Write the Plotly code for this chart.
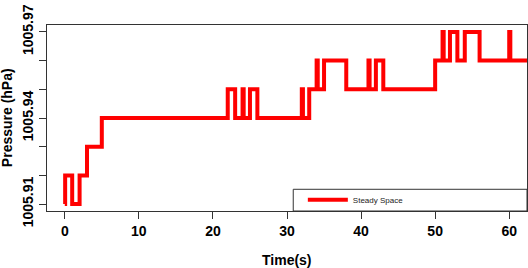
import plotly.graph_objects as go

# ---- data ----
time_s = [0, 0.05, 1.0, 2.0, 3.0, 5.0, 22.0, 23.0, 24.0, 24.15, 25.0, 26.0,
          32.0, 32.15, 33.0, 34.0, 34.15, 35.0, 38.0, 41.0, 41.15, 42.0, 43.0,
          50.0, 51.0, 51.15, 52.0, 53.0, 54.0, 56.0, 60.0, 60.15, 63.0]
pressure_hpa = [1005.91, 1005.92, 1005.91, 1005.92, 1005.93, 1005.94, 1005.95,
                1005.94, 1005.95, 1005.94, 1005.95, 1005.94, 1005.95, 1005.94,
                1005.95, 1005.96, 1005.95, 1005.96, 1005.95, 1005.96, 1005.95,
                1005.96, 1005.95, 1005.96, 1005.97, 1005.96, 1005.97, 1005.96,
                1005.97, 1005.96, 1005.97, 1005.96, 1005.96]
series_name = "Steady Space"
x_ticks = [0, 10, 20, 30, 40, 50, 60]
y_ticks = [1005.91, 1005.92, 1005.93, 1005.94, 1005.95, 1005.96, 1005.97]
y_ticktext = ["1005.91", "", "", "1005.94", "", "", "1005.97"]

FONT = "Liberation Sans, Arial, sans-serif"
AX = "#333333"

fig = go.Figure()
fig.add_trace(go.Scatter(
    x=time_s, y=pressure_hpa, mode="lines", name=series_name,
    line=dict(color="#ff0000", width=4, shape="hv"),
))

fig.update_layout(
    width=528, height=268,
    margin=dict(l=47, r=1, t=25, b=57),
    paper_bgcolor="white", plot_bgcolor="white",
    font=dict(family=FONT, color="black"),
    showlegend=True,
    legend=dict(x=0.533, y=0.06, xanchor="left", yanchor="middle",
                bgcolor="rgba(0,0,0,0)", borderwidth=0,
                font=dict(size=8, color="#222222", family=FONT),
                itemwidth=40),
    xaxis=dict(range=[-2.4, 62.4], tickvals=x_ticks, ticks="outside", ticklen=7,
               tickcolor=AX, showline=True, linecolor=AX, linewidth=1, mirror=True,
               showgrid=False, zeroline=False, automargin=False,
               tickfont=dict(size=14, family=FONT, weight="bold", color="black")),
    yaxis=dict(range=[1005.91 - 0.0024, 1005.97 + 0.0024], tickvals=y_ticks,
               ticktext=y_ticktext, tickangle=-90, ticks="outside", ticklen=7,
               tickcolor=AX, showline=True, linecolor=AX, linewidth=1, mirror=True,
               showgrid=False, zeroline=False, automargin=False,
               tickfont=dict(size=14, family=FONT, weight="bold", color="black")),
    shapes=[dict(type="rect", xref="paper", yref="paper", x0=0.513, x1=1.0,
                 y0=0.0, y1=0.1167, line=dict(color=AX, width=1))],
    annotations=[
        dict(text="<b>Time(s)</b>", xref="paper", yref="paper", x=0.5, y=-0.265,
             xanchor="center", yanchor="middle", showarrow=False,
             font=dict(size=14, family=FONT, color="black")),
        dict(text="<b>Pressure (hPa)</b>", xref="paper", yref="paper", x=-0.083, y=0.5,
             xanchor="center", yanchor="middle", textangle=-90, showarrow=False,
             font=dict(size=14, family=FONT, color="black")),
    ],
)

fig.write_html("out.html", config={"displayModeBar": False},
               post_script="document.body.style.margin='0';document.body.style.padding='0';")
